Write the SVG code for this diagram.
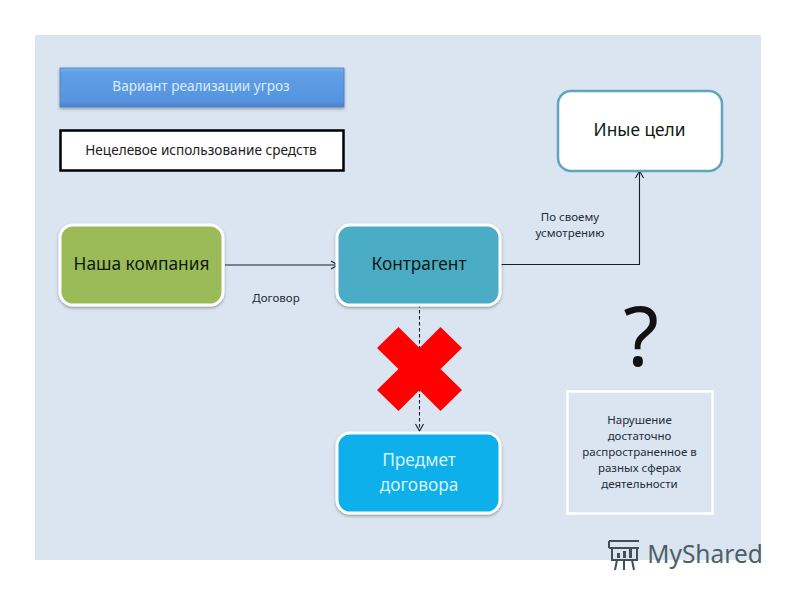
<svg xmlns="http://www.w3.org/2000/svg" width="800" height="600" viewBox="0 0 800 600">
<style>
text{font-family:"Noto Sans","Open Sans","Liberation Sans",sans-serif;text-anchor:middle}
.conn{fill:none;stroke:#10202e;stroke-width:1.1}
.lbl{font-size:11.5px;fill:#222c38}
.big{font-size:17.3px;fill:#0c1a12}
.white{stroke:#fff;stroke-width:3;filter:url(#sh)}
</style>
<defs>
<linearGradient id="blue" x1="0" y1="0" x2="0" y2="1"><stop offset="0" stop-color="#74b2ee"/><stop offset=".12" stop-color="#5f9fe6"/><stop offset=".85" stop-color="#5694e0"/><stop offset="1" stop-color="#4a80c4"/></linearGradient>
<filter id="sh" x="-10%" y="-10%" width="120%" height="125%"><feDropShadow dx="0" dy="1.5" stdDeviation="1.5" flood-color="#000" flood-opacity=".35"/></filter>
<marker id="arr" markerWidth="9" markerHeight="10" refX="8" refY="5" orient="auto" markerUnits="userSpaceOnUse"><path d="M1 1L8 5L1 9" fill="none" stroke="#10202e" stroke-width="1.1"/></marker>
</defs>
<rect width="800" height="600" fill="#fff"/>
<rect id="background" x="35" y="35" width="726" height="525" fill="#dbe5f1"/>
<g id="connectors">
<path class="conn" d="M225 265H338" marker-end="url(#arr)"/>
<path class="conn" d="M501 264.500H639.500V171" marker-end="url(#arr)"/>
<path class="conn" d="M419.500 304V431" stroke-dasharray="3.500 2.500" marker-end="url(#arr)"/>
</g>
<g id="legend-threat"><rect x="60" y="68" width="284" height="39" fill="url(#blue)" stroke="#4a80c4" stroke-width=".8" filter="url(#sh)"/><text x="201" y="91" font-size="13.600" fill="#dcebfa">Вариант реализации угроз</text></g>
<g id="legend-misuse"><rect x="60.500" y="130.500" width="283" height="40" fill="#fff" stroke="#000" stroke-width="2.500"/><text x="201" y="155" font-size="13.600" fill="#1c1c1c">Нецелевое использование средств</text></g>
<g id="our-company"><rect class="white" x="60" y="225" width="163" height="80" rx="13" fill="#9bbb59"/><text class="big" x="141.500" y="270">Наша компания</text></g>
<g id="counterparty"><rect class="white" x="337" y="225" width="163" height="80" rx="13" fill="#4bacc6"/><text class="big" x="419" y="270">Контрагент</text></g>
<g id="other-goals"><rect x="558" y="91" width="164" height="80" rx="13" fill="#fff" stroke="#5fa5bb" stroke-width="2.500"/><text class="big" x="639.500" y="136" fill="#111">Иные цели</text></g>
<g id="contract-subject"><rect class="white" x="337" y="433" width="163" height="80" rx="13" fill="#0cb0ea"/><text class="big" x="419" y="466" style="fill:#d8f1fb">Предмет</text><text class="big" x="419" y="491" style="fill:#d8f1fb">договора</text></g>
<g id="cross"><path d="M398.500 327L419.500 348L440.500 327L462 348L440.500 369L462 390L440.500 411L419.500 390L398.500 411L377 390L398.500 369L377 348Z" fill="#fe0000"/></g>
<g id="labels">
<text class="lbl" x="276" y="302">Договор</text>
<text class="lbl" x="570" y="221">По своему</text>
<text class="lbl" x="570" y="237">усмотрению</text>
<text x="641" y="366" font-size="82" fill="#111">?</text>
</g>
<g id="note"><rect x="567.500" y="391.500" width="145" height="122" fill="none" stroke="#fff" stroke-width="2.500"/>
<text class="lbl" x="639.500" y="424">Нарушение</text><text class="lbl" x="639.500" y="440">достаточно</text><text class="lbl" x="639.500" y="456">распространенное в</text><text class="lbl" x="639.500" y="472">разных сферах</text><text class="lbl" x="639.500" y="488">деятельности</text></g>
<g id="watermark"><g fill="none" stroke="#3f5056" stroke-width="2"><path d="M609 541H639M612 548V560H637V548M609 548H639M609 541V548"/><path d="M617 560L615 570M624 560V570M632 560L634 570"/></g><path d="M617 553h3v5h-3zM623 551h3v7h-3zM629 548h3v10h-3z" fill="#3f5056"/>
<text x="705" y="563" font-size="24.500" fill="#4d5f66">MyShared</text></g>
</svg>
